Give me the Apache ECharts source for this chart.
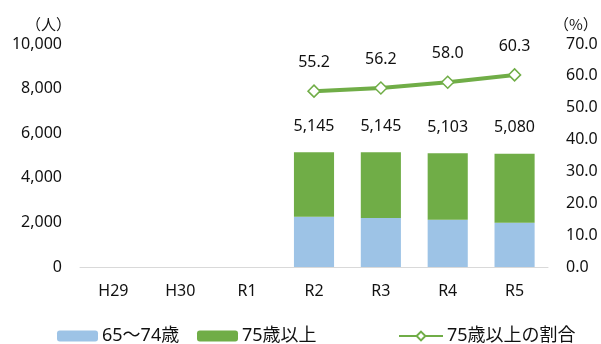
<!DOCTYPE html>
<html>
<head>
<meta charset="utf-8">
<script src="https://cdn.jsdelivr.net/npm/echarts@6/dist/echarts.min.js"></script>
<style>
  html, body { margin: 0; padding: 0; background: #fff; }
  #chart { width: 601px; height: 344px; }
</style>
</head>
<body>
<div id="chart"></div>
<script>
// Fiscal years
const years = ['H29', 'H30', 'R1', 'R2', 'R3', 'R4', 'R5'];
// Total elderly count (65+), persons
const totals = [null, null, null, 5145, 5145, 5103, 5080];
// 65–74 age group, persons
const young = [null, null, null, 2250, 2192, 2116, 1982];
// Share of 75+ among the total, percent
const shareOld = [null, null, null, 55.2, 56.2, 58.0, 60.3];
// Axis ticks
const leftTicks = [0, 2000, 4000, 6000, 8000, 10000];
const rightTicks = [0, 10, 20, 30, 40, 50, 60, 70];

// 75+ group = total minus 65–74 group
const old = totals.map((t, i) => (t == null ? null : t - young[i]));

const FONT = '"Noto Sans", "Noto Sans CJK JP", sans-serif';
const CJK_FONT = '"Noto Sans CJK JP", "Noto Sans", sans-serif';
const TXT = '#111';
const BLUE = '#9DC3E6';
const GREEN = '#70AD47';
const FS = 16;

const chart = echarts.init(document.getElementById('chart'), null, { renderer: 'canvas' });

const legendBase = {
  top: 322,
  itemWidth: 41,
  itemHeight: 11,
  textStyle: { fontFamily: FONT, fontSize: 18, color: TXT, padding: [0, 0, 0, -1] },
  selectedMode: false
};

chart.setOption({
  animation: false,
  textStyle: { fontFamily: FONT },
  grid: { left: 80, right: 53, top: 44, bottom: 77 },
  legend: [
    Object.assign({}, legendBase, { left: 52, data: ['65〜74歳'] }),
    Object.assign({}, legendBase, { left: 192, data: ['75歳以上'] }),
    Object.assign({}, legendBase, { left: 393, itemWidth: 44, data: ['75歳以上の割合'] })
  ],
  xAxis: {
    type: 'category',
    data: years,
    axisLine: { lineStyle: { color: '#D9D9D9', width: 1 } },
    axisTick: { show: false },
    axisLabel: { fontFamily: FONT, fontSize: FS, color: TXT, margin: 16 }
  },
  yAxis: [
    {
      type: 'value',
      min: leftTicks[0],
      max: leftTicks[leftTicks.length - 1],
      interval: leftTicks[1] - leftTicks[0],
      name: '（人）',
      nameLocation: 'end',
      nameGap: 12,
      nameTextStyle: { fontFamily: CJK_FONT, fontSize: 15, color: TXT, align: 'right', padding: [0, 9, 0, 0] },
      splitLine: { show: false },
      axisLine: { show: false },
      axisTick: { show: false },
      axisLabel: {
        fontFamily: FONT, fontSize: FS, color: TXT, margin: 18,
        formatter: v => v.toLocaleString('en-US')
      }
    },
    {
      type: 'value',
      min: rightTicks[0],
      max: rightTicks[rightTicks.length - 1],
      interval: rightTicks[1] - rightTicks[0],
      name: '（%）',
      nameLocation: 'end',
      nameGap: 12,
      nameTextStyle: { fontFamily: CJK_FONT, fontSize: 15, color: TXT, align: 'left', padding: [0, 0, 0, 6] },
      splitLine: { show: false },
      axisLine: { show: false },
      axisTick: { show: false },
      axisLabel: {
        fontFamily: FONT, fontSize: FS, color: TXT, margin: 18,
        formatter: v => v.toFixed(1)
      }
    }
  ],
  series: [
    {
      name: '65〜74歳',
      type: 'bar',
      stack: 'pop',
      barWidth: '60%',
      itemStyle: { color: BLUE },
      data: young
    },
    {
      name: '75歳以上',
      type: 'bar',
      stack: 'pop',
      barWidth: '60%',
      itemStyle: { color: GREEN },
      label: {
        show: true,
        position: 'top',
        distance: 18,
        fontFamily: FONT,
        fontSize: FS,
        color: TXT,
        formatter: p => (totals[p.dataIndex] == null ? '' : totals[p.dataIndex].toLocaleString('en-US'))
      },
      data: old
    },
    {
      name: '75歳以上の割合',
      type: 'line',
      yAxisIndex: 1,
      symbol: 'diamond',
      symbolSize: 12,
      lineStyle: { color: GREEN, width: 4 },
      itemStyle: { color: '#fff', borderColor: GREEN, borderWidth: 1.5 },
      label: {
        show: true,
        position: 'top',
        distance: 14,
        fontFamily: FONT,
        fontSize: FS,
        color: TXT,
        formatter: p => p.value.toFixed(1)
      },
      data: shareOld
    }
  ]
});
</script>
</body>
</html>
